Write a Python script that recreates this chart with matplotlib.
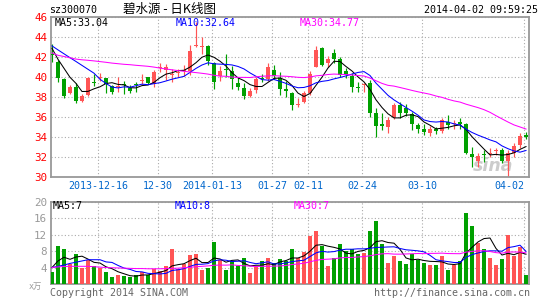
import matplotlib
matplotlib.use("Agg")
import matplotlib.pyplot as plt
import numpy as np
import pandas as pd

# ---- datos ----
opens = [42.3, 41.5, 39.8, 38.4, 39.0, 37.65, 38.25, 39.55, 39.98, 39.9,
         39.1, 39.05, 39.3, 38.9, 39.25, 39.6, 40.0, 39.3, 40.9, 40.75,
         40.2, 40.45, 40.6, 40.6, 43.15, 43.05, 43.1, 41.4, 40.1, 40.85,
         40.65, 39.45, 38.9, 38.15, 38.75, 39.85, 39.8, 40.7, 39.9, 38.85,
         38.4, 37.2, 37.55, 38.4, 41.05, 42.9, 41.4, 42.4, 41.8, 40.65,
         40.15, 38.95, 39.25, 39.45, 36.4, 35.3, 35.0, 36.0, 37.2, 36.9,
         36.3, 35.2, 34.85, 34.45, 34.85, 34.65, 35.55, 35.3, 35.55, 35.3,
         32.3, 31.65, 32.35, 32.35, 32.6, 32.7, 31.65, 32.45, 33.25, 34.2]
highs = [43.3, 41.7, 39.9, 39.25, 39.45, 38.35, 40.0, 40.3, 40.4, 39.95,
         39.25, 40.0, 39.6, 39.25, 39.55, 40.35, 40.05, 40.75, 41.45, 41.35,
         40.8, 40.85, 41.25, 43.25, 45.55, 44.0, 43.25, 41.55, 41.15, 42.3,
         41.15, 40.05, 39.45, 38.9, 40.05, 40.3, 41.4, 41.25, 40.5, 39.6,
         38.55, 37.9, 38.65, 40.65, 43.15, 43.05, 42.15, 42.8, 42.05, 40.95,
         40.4, 39.5, 39.4, 39.75, 36.9, 36.4, 36.0, 37.45, 37.55, 37.35,
         36.55, 35.45, 35.3, 35.15, 35.0, 35.9, 36.2, 35.75, 35.9, 35.4,
         33.0, 32.4, 32.75, 32.9, 32.9, 32.9, 32.75, 33.4, 34.4, 34.5]
lows = [41.5, 39.55, 37.95, 38.3, 37.4, 37.5, 38.15, 39.1, 39.65, 38.4,
        38.3, 38.5, 38.3, 38.4, 38.55, 39.3, 39.35, 39.05, 40.5, 39.75,
        39.55, 40.0, 40.15, 40.2, 43.05, 42.35, 41.25, 38.85, 39.65, 40.05,
        38.85, 38.75, 37.85, 38.05, 38.4, 39.5, 39.65, 39.8, 38.25, 38.05,
        36.75, 37.05, 37.45, 38.25, 41.0, 41.15, 41.0, 41.45, 40.05, 39.9,
        38.55, 38.55, 38.55, 36.0, 34.0, 34.7, 34.45, 35.8, 35.95, 36.1,
        34.75, 34.45, 34.2, 34.1, 34.3, 34.45, 34.8, 34.8, 34.85, 32.3,
        31.0, 31.0, 31.55, 32.05, 32.2, 31.4, 30.05, 32.05, 32.95, 33.85]
closes = [42.2, 39.9, 38.15, 39.05, 37.65, 38.15, 39.95, 39.45, 40.05, 39.3,
          38.55, 39.1, 39.2, 38.65, 39.2, 39.7, 39.4, 40.5, 41.0, 41.0,
          40.35, 40.5, 40.65, 42.6, 43.2, 43.1, 41.6, 39.5, 40.65, 40.75,
          39.8, 39.0, 38.15, 38.65, 39.8, 39.8, 41.05, 40.15, 38.85, 38.65,
          37.2, 37.25, 38.45, 40.35, 42.75, 41.25, 41.85, 41.8, 40.25, 40.25,
          39.0, 38.9, 39.3, 36.45, 35.1, 35.15, 35.75, 37.25, 36.45, 36.45,
          35.35, 34.85, 34.55, 34.85, 34.6, 35.7, 35.25, 35.35, 35.3, 32.4,
          32.0, 32.15, 32.25, 32.4, 32.65, 31.65, 32.45, 33.1, 34.1, 34.05]
volumes = [2.9, 9.35, 8.4, 4.75, 7.4, 3.9, 5.8, 4.45, 3.95, 2.8,
           1.6, 2.1, 2.0, 1.6, 2.2, 3.0, 2.2, 3.7, 3.2, 4.3,
           8.6, 3.7, 4.85, 6.95, 7.2, 3.3, 3.8, 10.3, 5.8, 3.3,
           5.5, 4.35, 6.2, 2.65, 4.1, 5.5, 6.2, 5.1, 6.0, 5.7,
           8.6, 6.2, 7.7, 11.6, 13.0, 9.35, 4.3, 6.3, 9.6, 7.9,
           8.5, 7.3, 7.5, 13.0, 15.2, 9.6, 5.1, 6.7, 5.5, 4.75,
           7.3, 5.9, 5.1, 4.5, 4.5, 6.9, 3.3, 4.5, 5.5, 17.2,
           14.0, 9.9, 8.6, 6.2, 4.5, 6.0, 12.0, 6.9, 9.0, 2.3]

# medias al inicio (dependen de días anteriores no visibles)
ma5_head = [42.9, 41.8, 40.9, 40.0]
ma10_head = [43.14, 42.74, 42.35, 41.96, 41.58, 41.19, 40.8, 40.41, 39.8]
ma30_head = [42.44, 42.2, 42.08, 41.95, 41.82, 41.75, 41.7, 41.64, 41.57, 41.5,
             41.42, 41.36, 41.3, 41.26, 41.2, 41.15, 41.1, 41.02, 40.92, 40.83,
             40.75, 40.67, 40.6, 40.53, 40.47, 40.4, 40.32, 40.2, 40.12]
vma5_head = [4.0, 5.6, 6.5, 6.0]
vma10_head = [4.0, 4.3, 4.6, 5.0, 5.3, 5.6, 5.9, 5.9, 5.9]
vma30_head = [4.0, 4.15, 4.25, 4.3, 4.3, 4.3, 4.3, 4.2, 4.1, 4.0,
              3.95, 3.9, 3.85, 3.8, 3.75, 3.75, 3.7, 3.7, 3.7, 3.75,
              3.8, 3.85, 3.95, 4.05, 4.2, 4.3, 4.4, 4.55, 4.6]

date_idx = [8, 18, 27, 37, 43, 52, 62, 79]
date_labels = ["2013-12-16", "12-30", "2014-01-13", "01-27", "02-11", "02-24", "03-10", "04-02"]

price_ticks = [30, 32, 34, 36, 38, 40, 42, 44, 46]
vol_ticks = [4, 8, 12, 16, 20]

code = "sz300070"
title = "碧水源 - 日K线图"
stamp = "2014-04-02 09:59:25"
price_ma_text = ["MA5:33.04", "MA10:32.64", "MA30:34.77"]
vol_ma_text = ["MA5:7", "MA10:8", "MA30:7"]

RED = "#ff5555"
GREEN = "#00a000"
MA_COLORS = ["black", "#0000ff", "#ff00ff"]
GRID = "#aaaaaa"
FRAME = "#999999"
MONO = "DejaVu Sans Mono"
FS = 7.2


def moving_average(values, n, head):
    s = pd.Series(values, dtype=float).rolling(n).mean()
    s.iloc[:n - 1] = head
    return s.to_numpy()


W, H = 545, 300
fig = plt.figure(figsize=(W / 100, H / 100), dpi=100)
fig.patch.set_facecolor("white")


def fx(px):
    return px / W


def fy(py):
    return 1 - py / H


L, R = 50.5, 529.0
ax = fig.add_axes([fx(L), fy(177.3), fx(R) - fx(L), fy(17.3) - fy(177.3)])
axv = fig.add_axes([fx(L), fy(284.0), fx(R) - fx(L), fy(201.7) - fy(284.0)])

o = np.array(opens)
h = np.array(highs)
lo = np.array(lows)
c = np.array(closes)
x = np.arange(len(o))
colors = np.where(c >= o, RED, GREEN)

for a in (ax, axv):
    a.set_xlim(-0.25, 79.5)
    for sp in a.spines.values():
        sp.set_color(FRAME)
        sp.set_linewidth(1.3)
    a.set_xticks([i - 0.3 for i in date_idx])
    a.grid(True, color=GRID, lw=0.8, ls=(0, (1, 2)))
    a.set_axisbelow(True)
    a.tick_params(length=0)

# ---- velas ----
ax.vlines(x, lo, h, colors=colors, lw=0.85, zorder=2)
body_lo = np.minimum(o, c)
body_h = np.maximum(np.abs(c - o), 0.1)
ax.bar(x, body_h, bottom=body_lo, width=0.82, color=colors, lw=0, zorder=3)

for n, head, col in zip((5, 10, 30), (ma5_head, ma10_head, ma30_head), MA_COLORS):
    ax.plot(x, moving_average(closes, n, head), color=col, lw=0.75, zorder=4)

ax.set_ylim(30, 46)
ax.set_yticks(price_ticks)
ax.set_yticklabels([str(t) for t in price_ticks], family=MONO, fontsize=FS + 0.6)
ax.tick_params(axis="y", labelcolor="red", pad=2.5)
ax.set_xticklabels(date_labels, family=MONO, fontsize=FS, color="#0066cc")
ax.tick_params(axis="x", pad=3)
lbls = ax.get_xticklabels()
lbls[-1].set_ha("right")

ax.text(0.925, 0.07, "sina", transform=ax.transAxes, ha="center", va="center",
        fontsize=12.5, fontstyle="italic", fontweight="bold", color="#cccccc", zorder=1)

for txt, col, px in zip(price_ma_text, MA_COLORS, (55, 176, 300)):
    fig.text(fx(px), fy(22.5), txt, color=col, family=MONO, fontsize=FS, va="center", ha="left")

# ---- volumen ----
axv.bar(x, volumes, width=0.82, color=colors, lw=0, zorder=3)
for n, head, col in zip((5, 10, 30), (vma5_head, vma10_head, vma30_head), MA_COLORS):
    axv.plot(x, moving_average(volumes, n, head), color=col, lw=0.75, zorder=4)
axv.set_ylim(0, 20)
axv.set_yticks(vol_ticks)
axv.set_yticklabels([str(t) for t in vol_ticks], family=MONO, fontsize=FS + 0.6)
axv.tick_params(axis="y", labelcolor="#999999", pad=2.5)
axv.set_xticklabels([])

for txt, col, px in zip(vol_ma_text, MA_COLORS, (53, 175, 294)):
    fig.text(fx(px), fy(206), txt, color=col, family=MONO, fontsize=FS, va="center", ha="left")

fig.text(fx(29), fy(286), "x万", color="#999999", family=[MONO, "Noto Sans CJK SC"],
         fontsize=6, va="center", ha="left")

# ---- cabecera y pie ----
fig.text(fx(49), fy(10), code, family=MONO, fontsize=FS, va="center", ha="left")
fig.text(fx(123), fy(9.5), title, family=["Noto Sans CJK SC", "DejaVu Sans"], fontsize=9,
         va="center", ha="left")
fig.text(fx(538), fy(10), stamp, family=MONO, fontsize=FS, va="center", ha="right")
fig.text(fx(50), fy(292.5), "Copyright 2014 SINA.COM", family=MONO, fontsize=FS,
         color="#666666", va="center", ha="left")
fig.text(fx(530), fy(292.5), "http://finance.sina.com.cn", family=MONO, fontsize=FS,
         color="#666666", va="center", ha="right")

fig.savefig("out.png", dpi=100)
